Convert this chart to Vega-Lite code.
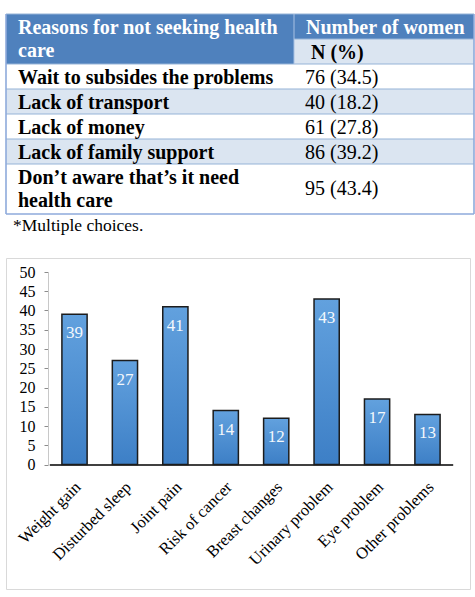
{
  "$schema": "https://vega.github.io/schema/vega-lite/v6.json",
  "padding": {"left": 5, "top": 13, "right": 2, "bottom": 8},
  "background": "white",
  "config": {"view": {"stroke": null}, "font": "Liberation Serif"},
  "datasets": {
    "reasons": [
      {"column": "Reasons", "row": "head", "first_line": 0, "last_line": 2, "text": "Reasons for not seeking health\ncare"},
      {"column": "Number", "row": "head", "first_line": 0, "last_line": 1, "text": "Number of women"},
      {"column": "Number", "row": "sub", "first_line": 1, "last_line": 2, "text": "N (%)"},
      {"column": "Reasons", "row": "r1", "first_line": 2, "last_line": 3, "text": "Wait to subsides the problems"},
      {"column": "Number", "row": "r1", "first_line": 2, "last_line": 3, "text": "76 (34.5)"},
      {"column": "Reasons", "row": "r2", "first_line": 3, "last_line": 4, "text": "Lack of transport"},
      {"column": "Number", "row": "r2", "first_line": 3, "last_line": 4, "text": "40 (18.2)"},
      {"column": "Reasons", "row": "r3", "first_line": 4, "last_line": 5, "text": "Lack of money"},
      {"column": "Number", "row": "r3", "first_line": 4, "last_line": 5, "text": "61 (27.8)"},
      {"column": "Reasons", "row": "r4", "first_line": 5, "last_line": 6, "text": "Lack of family support"},
      {"column": "Number", "row": "r4", "first_line": 5, "last_line": 6, "text": "86 (39.2)"},
      {"column": "Reasons", "row": "r5", "first_line": 6, "last_line": 8, "text": "Don’t aware that’s it need\nhealth care"},
      {"column": "Number", "row": "r5", "first_line": 6, "last_line": 8, "text": "95 (43.4)"}
    ],
    "symptoms": [
      {"symptom": "Weight gain", "women": 39},
      {"symptom": "Disturbed sleep", "women": 27},
      {"symptom": "Joint pain", "women": 41},
      {"symptom": "Risk of cancer", "women": 14},
      {"symptom": "Breast changes", "women": 12},
      {"symptom": "Urinary problem", "women": 43},
      {"symptom": "Eye problem", "women": 17},
      {"symptom": "Other problems", "women": 13}
    ]
  },
  "spacing": 22,
  "vconcat": [
    {
      "bounds": "flush",
      "spacing": 0,
      "hconcat": [
        {
          "width": 288,
          "height": 200,
          "data": {"name": "reasons"},
          "transform": [{"filter": "datum.column === 'Reasons'"}],
          "layer": [
            {
              "mark": {"type": "rect"},
              "encoding": {
                "x": {"field": "column", "type": "nominal", "scale": {"paddingInner": 0, "paddingOuter": 0}, "axis": null},
                "y": {"field": "first_line", "type": "quantitative", "scale": {"domain": [0, 8], "reverse": true, "nice": false, "zero": false}, "axis": null},
                "y2": {"field": "last_line"},
                "fill": {"field": "row", "type": "nominal", "scale": {"domain": ["head", "sub", "r1", "r2", "r3", "r4", "r5"], "range": ["#4f81bd", "#dbe5f1", "#ffffff", "#dbe5f1", "#ffffff", "#dbe5f1", "#ffffff"]}, "legend": null}
              }
            },
            {
              "mark": {"type": "rule", "color": "#95b3d7", "strokeWidth": 1.2},
              "encoding": {"y": {"field": "first_line", "type": "quantitative"}}
            },
            {
              "data": {"values": [{}]},
              "mark": {"type": "rule", "color": "#8eaadb", "strokeWidth": 1.6},
              "encoding": {"y": {"datum": 8, "type": "quantitative"}}
            },
            {
              "data": {"values": [{}]},
              "mark": {"type": "rule", "color": "#8eaadb", "strokeWidth": 1.6},
              "encoding": {
                "x": {"datum": "Reasons", "type": "nominal", "bandPosition": 0},
                "y": {"datum": 0, "type": "quantitative"},
                "y2": {"datum": 8}
              }
            },
            {
              "transform": [{"filter": "datum.row === 'head'"}],
              "mark": {"type": "text", "align": "left", "baseline": "alphabetic", "dx": 12, "dy": 19.5, "fontSize": 20, "fontWeight": "bold", "lineBreak": "\n", "lineHeight": 23, "color": "#ffffff"},
              "encoding": {
                "x": {"field": "column", "type": "nominal", "bandPosition": 0},
                "y": {"field": "first_line", "type": "quantitative"},
                "text": {"field": "text"}
              }
            },
            {
              "transform": [{"filter": "datum.row !== 'head'"}],
              "mark": {"type": "text", "align": "left", "baseline": "alphabetic", "dx": 12, "dy": 19.5, "fontSize": 20, "fontWeight": "bold", "lineBreak": "\n", "lineHeight": 23, "color": "#000000"},
              "encoding": {
                "x": {"field": "column", "type": "nominal", "bandPosition": 0},
                "y": {"field": "first_line", "type": "quantitative"},
                "text": {"field": "text"}
              }
            },
            {
              "data": {"values": [{"note": "*Multiple choices."}]},
              "mark": {"type": "text", "align": "left", "baseline": "alphabetic", "dx": 7, "dy": 17, "fontSize": 17.5, "color": "#000000"},
              "encoding": {
                "x": {"datum": "Reasons", "type": "nominal", "bandPosition": 0},
                "y": {"datum": 8, "type": "quantitative"},
                "text": {"field": "note"}
              }
            }
          ]
        },
        {
          "width": 180,
          "height": 200,
          "data": {"name": "reasons"},
          "transform": [{"filter": "datum.column === 'Number'"}],
          "layer": [
            {
              "mark": {"type": "rect"},
              "encoding": {
                "x": {"field": "column", "type": "nominal", "scale": {"paddingInner": 0, "paddingOuter": 0}, "axis": null},
                "y": {"field": "first_line", "type": "quantitative", "scale": {"domain": [0, 8], "reverse": true, "nice": false, "zero": false}, "axis": null},
                "y2": {"field": "last_line"},
                "fill": {"field": "row", "type": "nominal", "scale": {"domain": ["head", "sub", "r1", "r2", "r3", "r4", "r5"], "range": ["#4f81bd", "#dbe5f1", "#ffffff", "#dbe5f1", "#ffffff", "#dbe5f1", "#ffffff"]}, "legend": null}
              }
            },
            {
              "mark": {"type": "rule", "color": "#95b3d7", "strokeWidth": 1.2},
              "encoding": {"y": {"field": "first_line", "type": "quantitative"}}
            },
            {
              "data": {"values": [{}]},
              "mark": {"type": "rule", "color": "#8eaadb", "strokeWidth": 1.6},
              "encoding": {"y": {"datum": 8, "type": "quantitative"}}
            },
            {
              "data": {"values": [{}]},
              "mark": {"type": "rule", "color": "#8eaadb", "strokeWidth": 1.6},
              "encoding": {
                "x": {"datum": "Number", "type": "nominal", "bandPosition": 1},
                "y": {"datum": 0, "type": "quantitative"},
                "y2": {"datum": 8}
              }
            },
            {
              "data": {"values": [{}]},
              "mark": {"type": "rule", "color": "#a9c1e3", "strokeWidth": 1},
              "encoding": {
                "x": {"datum": "Number", "type": "nominal", "bandPosition": 0},
                "y": {"datum": 0, "type": "quantitative"},
                "y2": {"datum": 2}
              }
            },
            {
              "transform": [{"filter": "datum.row === 'head'"}],
              "mark": {"type": "text", "align": "left", "baseline": "alphabetic", "dx": 12, "dy": 19.5, "fontSize": 20, "fontWeight": "bold", "color": "#ffffff"},
              "encoding": {
                "x": {"field": "column", "type": "nominal", "bandPosition": 0},
                "y": {"field": "first_line", "type": "quantitative"},
                "text": {"field": "text"}
              }
            },
            {
              "transform": [{"filter": "datum.row === 'sub'"}],
              "mark": {"type": "text", "align": "left", "baseline": "alphabetic", "dx": 17, "dy": 19.5, "fontSize": 20, "fontWeight": "bold", "color": "#000000"},
              "encoding": {
                "x": {"field": "column", "type": "nominal", "bandPosition": 0},
                "y": {"field": "first_line", "type": "quantitative"},
                "text": {"field": "text"}
              }
            },
            {
              "transform": [{"filter": "datum.row !== 'head' && datum.row !== 'sub' && datum.row !== 'r5'"}],
              "mark": {"type": "text", "align": "left", "baseline": "alphabetic", "dx": 11, "dy": 19.5, "fontSize": 20, "color": "#000000"},
              "encoding": {
                "x": {"field": "column", "type": "nominal", "bandPosition": 0},
                "y": {"field": "first_line", "type": "quantitative"},
                "text": {"field": "text"}
              }
            },
            {
              "transform": [{"filter": "datum.row === 'r5'"}],
              "mark": {"type": "text", "align": "left", "baseline": "alphabetic", "dx": 11, "dy": 30.5, "fontSize": 20, "color": "#000000"},
              "encoding": {
                "x": {"field": "column", "type": "nominal", "bandPosition": 0},
                "y": {"field": "first_line", "type": "quantitative"},
                "text": {"field": "text"}
              }
            }
          ]
        }
      ]
    },
    {
      "width": 464,
      "height": 331,
      "view": {"stroke": "#d9d9d9", "strokeWidth": 1},
      "data": {"name": "symptoms"},
      "encoding": {
        "x": {
          "field": "symptom",
          "type": "nominal",
          "sort": null,
          "scale": {"range": [43.3, 446.7], "paddingInner": 0.5, "paddingOuter": 0.25},
          "axis": {
            "title": null,
            "offset": -124.5,
            "domainColor": "#000000",
            "domainWidth": 1.5,
            "ticks": false,
            "tickSize": 0,
            "labelAngle": -45,
            "labelAlign": "right",
            "labelBaseline": "top",
            "labelPadding": 14,
            "labelOffset": -2,
            "labelFont": "Liberation Serif",
            "labelFontSize": 16.5,
            "labelColor": "#000000"
          }
        },
        "y": {
          "field": "women",
          "type": "quantitative",
          "scale": {"domain": [0, 50], "range": [206.5, 14], "nice": false},
          "axis": {
            "title": null,
            "offset": -42,
            "domain": true,
            "domainColor": "#c8c8c8",
            "domainWidth": 1,
            "grid": false,
            "values": [0, 5, 10, 15, 20, 25, 30, 35, 40, 45, 50],
            "tickColor": "#8c8c8c",
            "tickSize": 4,
            "labelPadding": 9,
            "labelFont": "Liberation Serif",
            "labelFontSize": 16,
            "labelColor": "#000000"
          }
        }
      },
      "layer": [
        {
          "mark": {
            "type": "bar",
            "stroke": "#1c1c1c",
            "strokeWidth": 1.5,
            "fill": {"gradient": "linear", "x1": 0, "y1": 0, "x2": 0, "y2": 1, "stops": [{"offset": 0, "color": "#62a1de"}, {"offset": 1, "color": "#3d7fc6"}]}
          }
        },
        {
          "mark": {"type": "text", "baseline": "middle", "dy": 19, "fontSize": 17, "color": "#f4f8fc"},
          "encoding": {"text": {"field": "women", "type": "quantitative"}}
        }
      ]
    }
  ]
}
